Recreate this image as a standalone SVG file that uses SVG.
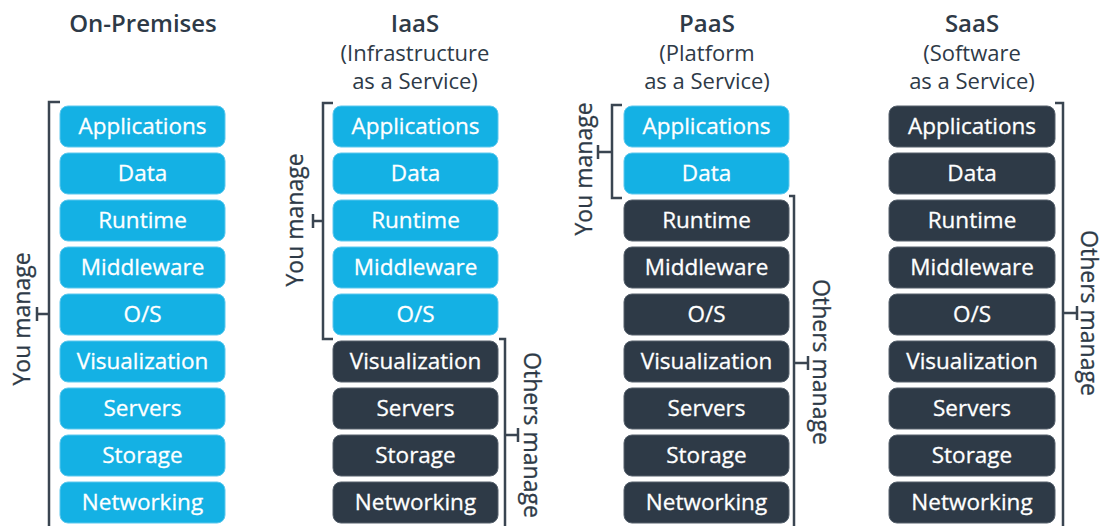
<svg xmlns="http://www.w3.org/2000/svg" width="1105" height="526" viewBox="0 0 1105 526">
<style>
  .bg{fill:#ffffff}
  .blue{fill:#14b1e4;stroke:#5cc8ee;stroke-width:1}
  .dark{fill:#2e3a47;stroke:#56616d;stroke-width:1}
  .lbl{font-family:"Open Sans","Liberation Sans",sans-serif;font-size:22.5px;font-weight:400;fill:#ffffff;text-anchor:middle;stroke:#ffffff;stroke-width:0.3}
  .title{font-family:"Open Sans","Liberation Sans",sans-serif;font-size:24px;font-weight:600;fill:#2e3a47;text-anchor:middle}
  .sub{font-family:"Open Sans","Liberation Sans",sans-serif;font-size:22px;font-weight:400;fill:#2e3a47;text-anchor:middle}
  .side{font-family:"Open Sans","Liberation Sans",sans-serif;font-size:23px;font-weight:400;fill:#2e3a47;text-anchor:middle;stroke:#2e3a47;stroke-width:0.3}
  .br{fill:none;stroke:#3a4551;stroke-width:2.5}
</style>
<rect class="bg" x="0" y="0" width="1105" height="526"/>

<g id="titles">
  <text class="title" x="143" y="32">On-Premises</text>
  <text class="title" x="415" y="32">IaaS</text>
  <text class="sub" x="415" y="61">(Infrastructure</text>
  <text class="sub" x="415" y="89">as a Service)</text>
  <text class="title" x="707" y="32">PaaS</text>
  <text class="sub" x="707" y="61">(Platform</text>
  <text class="sub" x="707" y="89">as a Service)</text>
  <text class="title" x="972" y="32">SaaS</text>
  <text class="sub" x="972" y="61">(Software</text>
  <text class="sub" x="972" y="89">as a Service)</text>
</g>

<g id="col-onprem">
  <rect class="blue" x="60" y="106" width="165" height="41" rx="8"/><text class="lbl" x="142.5" y="134">Applications</text>
  <rect class="blue" x="60" y="153" width="165" height="41" rx="8"/><text class="lbl" x="142.5" y="181">Data</text>
  <rect class="blue" x="60" y="200" width="165" height="41" rx="8"/><text class="lbl" x="142.5" y="228">Runtime</text>
  <rect class="blue" x="60" y="247" width="165" height="41" rx="8"/><text class="lbl" x="142.5" y="275">Middleware</text>
  <rect class="blue" x="60" y="294" width="165" height="41" rx="8"/><text class="lbl" x="142.5" y="322">O/S</text>
  <rect class="blue" x="60" y="341" width="165" height="41" rx="8"/><text class="lbl" x="142.5" y="369">Visualization</text>
  <rect class="blue" x="60" y="388" width="165" height="41" rx="8"/><text class="lbl" x="142.5" y="416">Servers</text>
  <rect class="blue" x="60" y="435" width="165" height="41" rx="8"/><text class="lbl" x="142.5" y="463">Storage</text>
  <rect class="blue" x="60" y="482" width="165" height="41" rx="8"/><text class="lbl" x="142.5" y="510">Networking</text>
</g>

<g id="col-iaas">
  <rect class="blue" x="333" y="106" width="165" height="41" rx="8"/><text class="lbl" x="415.5" y="134">Applications</text>
  <rect class="blue" x="333" y="153" width="165" height="41" rx="8"/><text class="lbl" x="415.5" y="181">Data</text>
  <rect class="blue" x="333" y="200" width="165" height="41" rx="8"/><text class="lbl" x="415.5" y="228">Runtime</text>
  <rect class="blue" x="333" y="247" width="165" height="41" rx="8"/><text class="lbl" x="415.5" y="275">Middleware</text>
  <rect class="blue" x="333" y="294" width="165" height="41" rx="8"/><text class="lbl" x="415.5" y="322">O/S</text>
  <rect class="dark" x="333" y="341" width="165" height="41" rx="8"/><text class="lbl" x="415.5" y="369">Visualization</text>
  <rect class="dark" x="333" y="388" width="165" height="41" rx="8"/><text class="lbl" x="415.5" y="416">Servers</text>
  <rect class="dark" x="333" y="435" width="165" height="41" rx="8"/><text class="lbl" x="415.5" y="463">Storage</text>
  <rect class="dark" x="333" y="482" width="165" height="41" rx="8"/><text class="lbl" x="415.5" y="510">Networking</text>
</g>

<g id="col-paas">
  <rect class="blue" x="624" y="106" width="165" height="41" rx="8"/><text class="lbl" x="706.5" y="134">Applications</text>
  <rect class="blue" x="624" y="153" width="165" height="41" rx="8"/><text class="lbl" x="706.5" y="181">Data</text>
  <rect class="dark" x="624" y="200" width="165" height="41" rx="8"/><text class="lbl" x="706.5" y="228">Runtime</text>
  <rect class="dark" x="624" y="247" width="165" height="41" rx="8"/><text class="lbl" x="706.5" y="275">Middleware</text>
  <rect class="dark" x="624" y="294" width="165" height="41" rx="8"/><text class="lbl" x="706.5" y="322">O/S</text>
  <rect class="dark" x="624" y="341" width="165" height="41" rx="8"/><text class="lbl" x="706.5" y="369">Visualization</text>
  <rect class="dark" x="624" y="388" width="165" height="41" rx="8"/><text class="lbl" x="706.5" y="416">Servers</text>
  <rect class="dark" x="624" y="435" width="165" height="41" rx="8"/><text class="lbl" x="706.5" y="463">Storage</text>
  <rect class="dark" x="624" y="482" width="165" height="41" rx="8"/><text class="lbl" x="706.5" y="510">Networking</text>
</g>

<g id="col-saas">
  <rect class="dark" x="889" y="106" width="166" height="41" rx="8"/><text class="lbl" x="972" y="134">Applications</text>
  <rect class="dark" x="889" y="153" width="166" height="41" rx="8"/><text class="lbl" x="972" y="181">Data</text>
  <rect class="dark" x="889" y="200" width="166" height="41" rx="8"/><text class="lbl" x="972" y="228">Runtime</text>
  <rect class="dark" x="889" y="247" width="166" height="41" rx="8"/><text class="lbl" x="972" y="275">Middleware</text>
  <rect class="dark" x="889" y="294" width="166" height="41" rx="8"/><text class="lbl" x="972" y="322">O/S</text>
  <rect class="dark" x="889" y="341" width="166" height="41" rx="8"/><text class="lbl" x="972" y="369">Visualization</text>
  <rect class="dark" x="889" y="388" width="166" height="41" rx="8"/><text class="lbl" x="972" y="416">Servers</text>
  <rect class="dark" x="889" y="435" width="166" height="41" rx="8"/><text class="lbl" x="972" y="463">Storage</text>
  <rect class="dark" x="889" y="482" width="166" height="41" rx="8"/><text class="lbl" x="972" y="510">Networking</text>
</g>

<g id="connectors">
  <!-- On-Premises: You manage -->
  <path class="br" d="M60 102 H49 V530 M49 314 H37 M37 307 V321"/>
  <!-- IaaS: You manage -->
  <path class="br" d="M333 103 H323 V339 H333 M323 221 H313 M313 214 V228"/>
  <!-- IaaS: Others manage -->
  <path class="br" d="M499 339 H505 V530 M505 435 H518 M518 428 V442"/>
  <!-- PaaS: You manage -->
  <path class="br" d="M622 105 H612 V198 H622 M612 152 H598 M598 145 V159"/>
  <!-- PaaS: Others manage -->
  <path class="br" d="M789 196 H794 V530 M794 363 H808 M808 356 V370"/>
  <!-- SaaS: Others manage -->
  <path class="br" d="M1055 103 H1063 V530 M1063 313 H1077 M1077 306 V320"/>
</g>

<g id="side-labels">
  <text class="side" transform="translate(30 319) rotate(-90)">You manage</text>
  <text class="side" transform="translate(303 220) rotate(-90)">You manage</text>
  <text class="side" transform="translate(592 169) rotate(-90)">You manage</text>
  <text class="side" transform="translate(524 435) rotate(90)">Others manage</text>
  <text class="side" transform="translate(813 362) rotate(90)">Others manage</text>
  <text class="side" transform="translate(1081 313) rotate(90)">Others manage</text>
</g>
</svg>
